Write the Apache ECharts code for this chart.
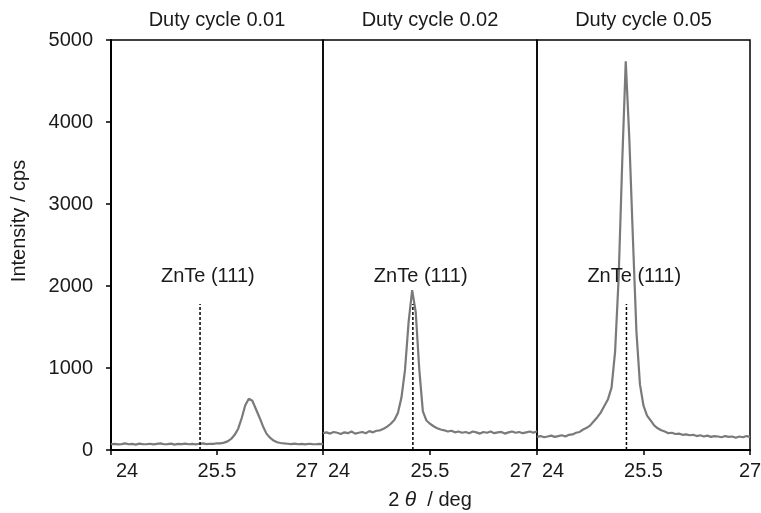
<!DOCTYPE html>
<html>
<head>
<meta charset="utf-8">
<script src="https://cdn.jsdelivr.net/npm/echarts@6/dist/echarts.min.js"></script>
<style>
  html, body { margin: 0; padding: 0; background: #fff; }
  #main { width: 761px; height: 513px; }
</style>
</head>
<body>
<div id="main"></div>
<script>
// 2θ sampling (deg), shared by the three panels
const angle = [
  24.00, 24.05, 24.10, 24.15, 24.20, 24.25, 24.30, 24.35, 24.40, 24.45,
  24.50, 24.55, 24.60, 24.65, 24.70, 24.75, 24.80, 24.85, 24.90, 24.95,
  25.00, 25.05, 25.10, 25.15, 25.20, 25.25, 25.30, 25.35, 25.40, 25.45,
  25.50, 25.55, 25.60, 25.65, 25.70, 25.75, 25.80, 25.85, 25.90, 25.95,
  26.00, 26.05, 26.10, 26.15, 26.20, 26.25, 26.30, 26.35, 26.40, 26.45,
  26.50, 26.55, 26.60, 26.65, 26.70, 26.75, 26.80, 26.85, 26.90, 26.95,
  27.00
];

// intensity (cps)
const duty001 = [
  70, 75, 68, 72, 80, 70, 74, 66, 78, 72,
  70, 76, 68, 74, 80, 70, 72, 78, 66, 74,
  72, 78, 70, 74, 68, 76, 80, 72, 76, 74,
  82, 80, 90, 105, 135, 185, 260, 390, 545, 625,
  600, 500, 400, 290, 200, 150, 115, 95, 85, 80,
  76, 72, 78, 70, 74, 68, 76, 72, 70, 74,
  72
];
const duty002 = [
  205, 215, 200, 220, 210, 195, 215, 205, 225, 200,
  210, 220, 205, 230, 215, 235, 240, 260, 285, 320,
  365, 450, 640, 980, 1560, 1950, 1680, 980, 470, 360,
  320, 290, 265, 250, 240, 225, 235, 215, 225, 210,
  220, 205, 225, 215, 200, 220, 210, 225, 205, 215,
  220, 200, 215, 225, 210, 220, 205, 215, 225, 210,
  230
];
const duty005 = [
  160, 170, 155, 165, 175, 160, 170, 180, 165, 185,
  190, 210, 220, 250, 270, 300, 350, 400, 460, 540,
  620, 760, 1200, 2100, 3500, 4740, 3800, 2600, 1450, 800,
  540, 420, 360, 300, 265, 240, 225, 205, 210, 195,
  200, 185, 190, 180, 185, 170, 180, 165, 175, 160,
  170, 165, 155, 170, 160, 165, 150, 165, 155, 170,
  160
];

const panelTitles = ['Duty cycle 0.01', 'Duty cycle 0.02', 'Duty cycle 0.05'];
const panelData = [duty001, duty002, duty005];

// ZnTe (111) reference line and its label
const refName = 'ZnTe (111)';
const refAngle = 25.26;
const refTop = 1780;
const refLabelAt = [25.37, 2120];

const xTicks = [24, 25.5, 27];
const yTicks = [0, 1000, 2000, 3000, 4000, 5000];

const font = '"Liberation Sans", Arial, sans-serif';
const textColor = '#1a1a1a';

var myChart = echarts.init(document.getElementById('main'));

const grids = [
  { left: 111, width: 212, top: 40, height: 410 },
  { left: 323, width: 214, top: 40, height: 410 },
  { left: 537, width: 213, top: 40, height: 410 }
];

var xAxes = [], yAxes = [], series = [], graphics = [];

grids.forEach(function (g, k) {
  g.show = true;
  g.borderColor = '#000';
  g.borderWidth = 1.5;
  g.containLabel = false;
  g.outerBoundsMode = 'none';

  var xa = {
    type: 'value', gridIndex: k,
    min: xTicks[0], max: xTicks[xTicks.length - 1], interval: xTicks[1] - xTicks[0],
    axisLine: { show: true, onZero: false, lineStyle: { color: '#000', width: 2 } },
    axisTick: { show: true, inside: false, length: 5, lineStyle: { color: '#000', width: 1.5 } },
    splitLine: { show: false },
    axisLabel: {
      show: true, fontSize: 20, color: textColor, fontFamily: font, margin: 11,
      padding: [0, 5, 0, 5],
      showMinLabel: true, showMaxLabel: true,
      alignMinLabel: 'left', alignMaxLabel: k === 2 ? 'center' : 'right',
      formatter: function (v) { return String(v); }
    }
  };
  if (k === 1) {
    xa.name = '2 {i|θ}  / deg';
    xa.nameLocation = 'middle';
    xa.nameGap = 40;
    xa.nameTextStyle = {
      fontSize: 20, color: textColor, fontFamily: font,
      rich: { i: { fontSize: 21, fontStyle: 'italic', color: textColor, fontFamily: font } }
    };
  }
  xAxes.push(xa);

  yAxes.push({
    type: 'value', gridIndex: k,
    min: yTicks[0], max: yTicks[yTicks.length - 1], interval: yTicks[1] - yTicks[0],
    axisLine: { show: k === 0, lineStyle: { color: '#000', width: 2 } },
    axisTick: { show: k === 0, inside: false, length: 5, lineStyle: { color: '#000', width: 1.5 } },
    splitLine: { show: false },
    axisLabel: {
      show: k === 0, fontSize: 20, color: textColor, fontFamily: font, margin: 18,
      formatter: function (v) { return String(v); }
    }
  });

  series.push({
    type: 'line', xAxisIndex: k, yAxisIndex: k,
    data: angle.map(function (a, i) { return [a, panelData[k][i]]; }),
    showSymbol: false, symbol: 'none', silent: true,
    lineStyle: { color: '#7a7a7a', width: 2.2 },
    z: 3
  });
  series.push({
    type: 'line', xAxisIndex: k, yAxisIndex: k,
    data: [[refAngle, 0], [refAngle, refTop]],
    showSymbol: false, symbol: 'none', silent: true,
    lineStyle: { color: '#000', width: 1.5, type: [3, 2] },
    z: 4
  });
  series.push({
    type: 'scatter', xAxisIndex: k, yAxisIndex: k,
    data: [refLabelAt], symbolSize: 0, silent: true,
    itemStyle: { opacity: 1 },
    label: {
      show: true, position: 'inside', formatter: refName,
      fontSize: 20, color: textColor, fontFamily: font, opacity: 1
    },
    z: 5
  });

  graphics.push({
    type: 'text',
    x: g.left + g.width / 2, y: 20,
    style: {
      text: panelTitles[k], fill: textColor,
      font: '20px ' + font, textAlign: 'center', textVerticalAlign: 'middle'
    }
  });
});

graphics.push({
  type: 'text',
  x: 19, y: 221, rotation: Math.PI / 2,
  style: {
    text: 'Intensity / cps', fill: textColor,
    font: '20px ' + font, textAlign: 'center', textVerticalAlign: 'middle'
  }
});

var option = {
  animation: false,
  backgroundColor: '#fff',
  grid: grids,
  xAxis: xAxes,
  yAxis: yAxes,
  series: series,
  graphic: graphics
};
myChart.setOption(option);
</script>
</body>
</html>
